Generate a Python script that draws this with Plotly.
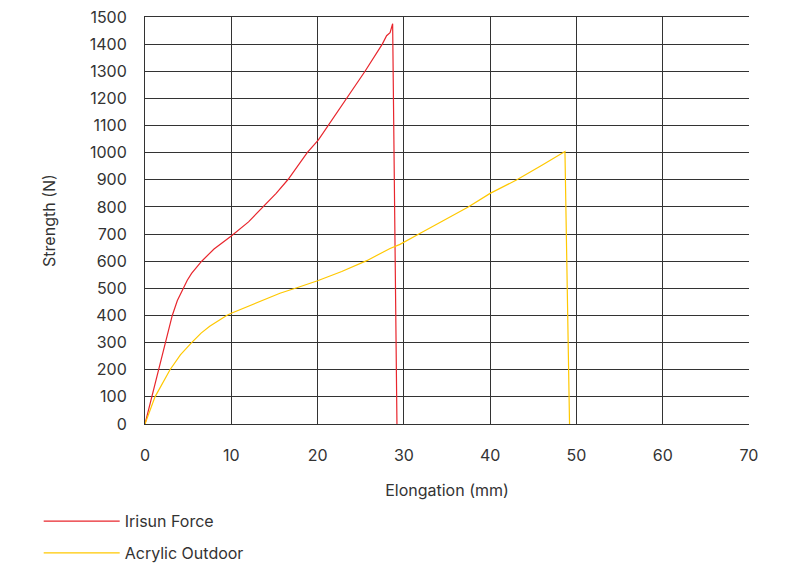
import plotly.graph_objects as go

red_x = [0, 0.81, 1.62, 2.35, 3.16, 3.75, 4.44, 4.9, 5.4, 6.0, 6.57, 8.0, 10.0, 12.0, 13.7, 15.2, 16.6, 18.8, 20.1, 22.6, 23.4, 25.5, 27.5, 28.0, 28.4, 28.7, 29.2]
red_y = [0, 100, 200, 300, 400, 455, 500, 530, 555, 580, 600, 645, 693, 745, 801, 850, 902, 1000, 1047, 1163, 1200, 1300, 1400, 1431, 1442, 1475, 0]

yel_x = [0, 1.16, 2.9, 4.1, 5.4, 6.5, 7.5, 8.5, 9.46, 10, 12.55, 15.64, 17.6, 20, 22.8, 25.7, 28.4, 29.55, 31.9, 34.7, 37.46, 40, 43.1, 46, 48.67, 49.2]
yel_y = [0, 100, 200, 255, 300, 335, 360, 382, 400, 408, 442, 482, 502, 528, 562, 602, 647, 662, 703, 752, 800, 850, 900, 954, 1004, 0]

names = ["Irisun Force", "Acrylic Outdoor"]
colors = ["#e8262d", "#ffc800"]

fig = go.Figure()
fig.add_trace(go.Scatter(x=red_x, y=red_y, mode="lines", name=names[0], legendgroup="a",
                         line=dict(color=colors[0], width=1.2)))
fig.add_trace(go.Scatter(x=yel_x, y=yel_y, mode="lines", name=names[1], legendgroup="b",
                         line=dict(color=colors[1], width=1.2)))

font = dict(family="Inter, Roboto, sans-serif", size=16, color="#333333")
fig.update_layout(
    width=779, height=557,
    margin=dict(l=137, r=38, t=9, b=141, autoexpand=False),
    paper_bgcolor="white", plot_bgcolor="white",
    font=font,
    showlegend=True,
    legend=dict(orientation="v", xref="paper", yref="paper",
                x=-0.176, y=-0.197, xanchor="left", yanchor="top",
                itemwidth=76, tracegroupgap=8, font=font, bgcolor="rgba(0,0,0,0)"),
    xaxis=dict(range=[0, 70], dtick=10, showgrid=True, gridcolor="#333333", gridwidth=1,
               zeroline=False, showline=True, linecolor="#333333", mirror=True,
               ticks="outside", ticklen=17, tickcolor="rgba(0,0,0,0)",
               title=dict(text="Elongation (mm)", standoff=20, font=font)),
    yaxis=dict(range=[0, 1500], dtick=100, showgrid=True, gridcolor="#333333", gridwidth=1,
               zeroline=False, showline=True, linecolor="#333333",
               ticks="outside", ticklen=14, tickcolor="rgba(0,0,0,0)",
               ticklabeloverflow="allow",
               title=dict(text="Strength (N)", standoff=30, font=font)),
)
fig.write_html("out.html")
